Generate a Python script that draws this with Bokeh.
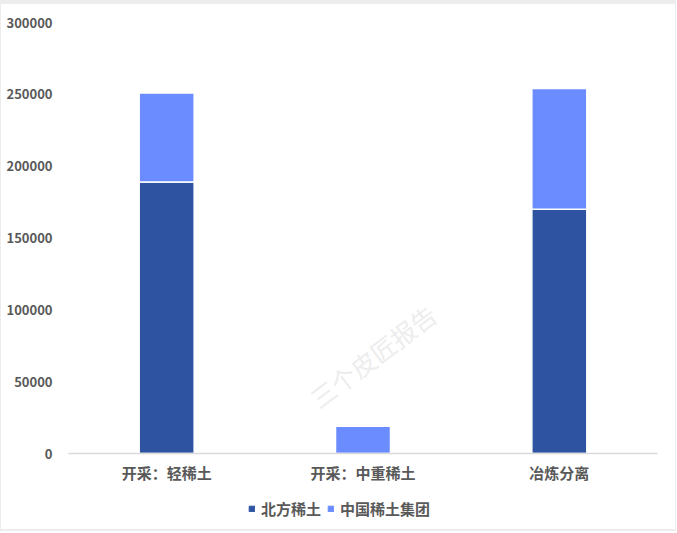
from bokeh.plotting import figure
from bokeh.layouts import column
from bokeh.models import (Legend, LegendItem, Range1d, FactorRange, Label,
                          NumeralTickFormatter, FixedTicker, ColumnDataSource)
from bokeh.embed import file_html
from bokeh.resources import INLINE

categories = ["开采：轻稀土", "开采：中重稀土", "冶炼分离"]
series_names = ["北方稀土", "中国稀土集团"]
north = [189000, 0, 170000]
china = [62000, 19000, 84000]
y_ticks = [0, 50000, 100000, 150000, 200000, 250000, 300000]
colors = ["#2E53A1", "#6B8CFF"]

FONT = "Noto Sans CJK SC"
TXT = "#595959"

source = ColumnDataSource(dict(cat=categories, north=north, china=china))

p = figure(x_range=FactorRange(*categories, range_padding=0),
           y_range=Range1d(0, 300000),
           width=674, height=486, output_backend="svg", toolbar_location=None,
           min_border_left=67, min_border_right=18, min_border_top=18,
           min_border_bottom=37)

renderers = p.vbar_stack(["north", "china"], x="cat", width=0.28, source=source,
                         color=colors, line_color="white", line_width=1.5)

p.xgrid.visible = False
p.ygrid.visible = False
p.outline_line_color = None

p.yaxis.ticker = FixedTicker(ticks=y_ticks)
p.yaxis.formatter = NumeralTickFormatter(format="0")
p.yaxis.axis_line_color = None
p.yaxis.major_tick_line_color = None
p.yaxis.minor_tick_line_color = None
p.yaxis.major_label_text_font = FONT
p.yaxis.major_label_text_font_style = "bold"
p.yaxis.major_label_text_font_size = "13px"
p.yaxis.major_label_text_color = TXT
p.yaxis.major_label_standoff = 10

p.xaxis.axis_line_color = "#D9D9D9"
p.xaxis.axis_line_width = 1.5
p.xaxis.major_tick_line_color = None
p.xaxis.minor_tick_line_color = None
p.xaxis.major_label_text_font = FONT
p.xaxis.major_label_text_font_style = "bold"
p.xaxis.major_label_text_font_size = "15px"
p.xaxis.major_label_text_color = TXT
p.xaxis.major_label_standoff = 2

wm = Label(x=1.55, y=68000, text="三个皮匠报告", angle=37, angle_units="deg",
           text_align="center", text_baseline="middle",
           text_font=FONT, text_font_size="25px", text_color="#E8E8E8",
           text_alpha=0.8)
p.add_layout(wm)

# legend strip below the chart; its bars lie outside its visible y window
pl = figure(width=674, height=39, x_range=p.x_range, y_range=Range1d(1000000, 1300000),
            output_backend="svg", toolbar_location=None,
            min_border=0, min_border_left=67, min_border_right=18,
            min_border_top=0, min_border_bottom=0)
pl.axis.visible = False
pl.grid.visible = False
pl.outline_line_color = None
leg_r = pl.vbar_stack(["north", "china"], x="cat", width=0.28, source=source,
                      color=colors)

legend = Legend(items=[LegendItem(label=series_names[i], renderers=[leg_r[i]])
                       for i in range(2)],
                orientation="horizontal", location=(180, 10),
                label_text_font=FONT, label_text_font_style="bold",
                label_text_font_size="15px", label_text_color=TXT,
                glyph_width=7, glyph_height=7, spacing=6, label_standoff=6,
                border_line_color=None, background_fill_alpha=0,
                padding=0, margin=0)
pl.add_layout(legend, "center")

layout = column(p, pl, spacing=0)
layout.styles = {"border-top": "4px solid #EDEDED",
                 "border-left": "1px solid #EDEDED",
                 "border-right": "1px solid #EDEDED",
                 "border-bottom": "2px solid #EDEDED"}
open("out.html", "w").write(file_html(layout, INLINE))
